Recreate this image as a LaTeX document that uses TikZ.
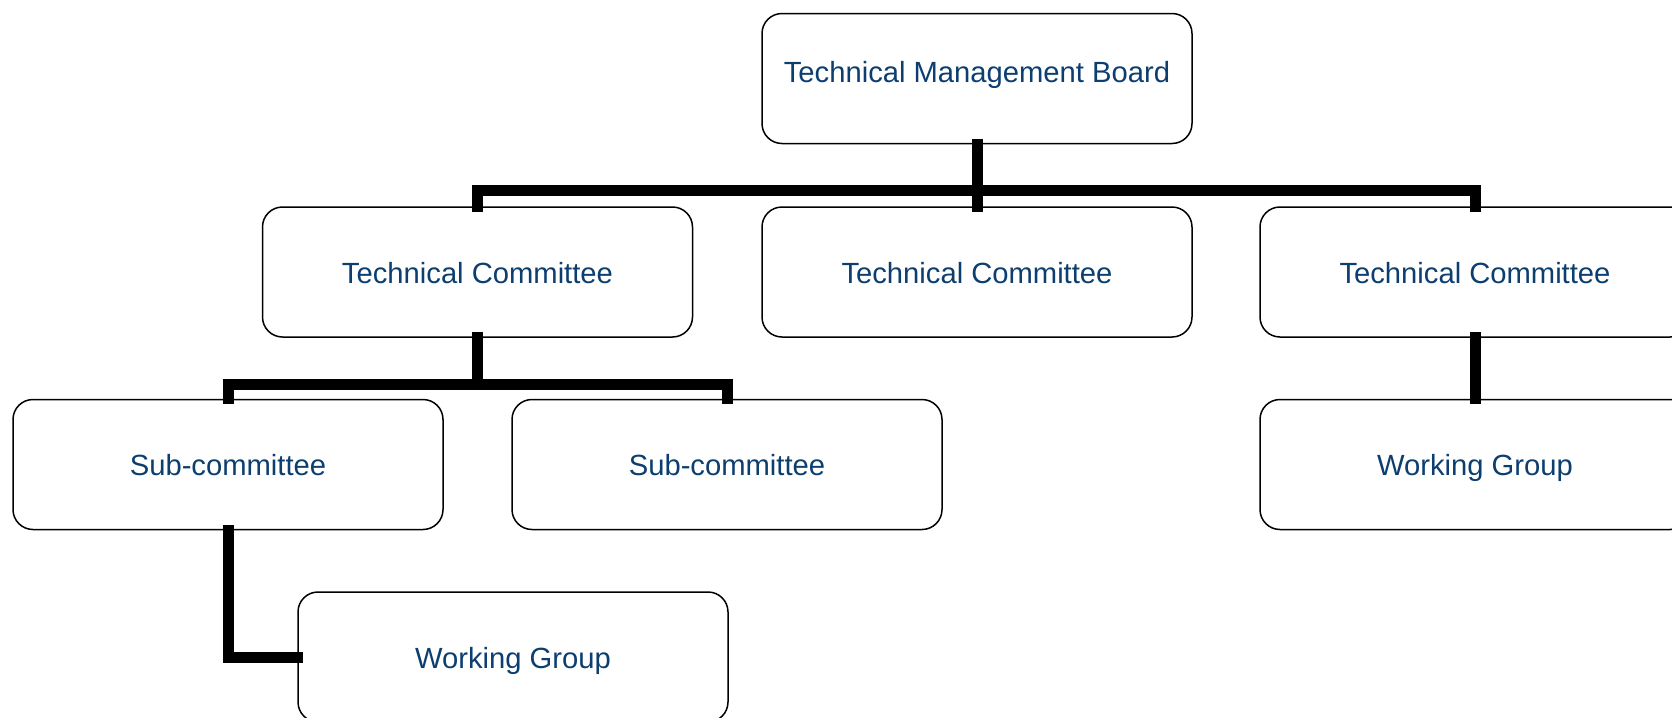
\documentclass[tikz,border=0pt]{standalone}
\usepackage{fontspec}
\setmainfont{Liberation Sans}
\usetikzlibrary{positioning}
\definecolor{orgblue}{RGB}{12,62,112}

\begin{document}
\begin{tikzpicture}[x = .5pt, y = -.5pt, style={font=\fontsize{14.6}{17}\selectfont},
  unit/.style={draw=black, line width=.75pt, rounded corners=10pt, minimum width=215pt,
    minimum height=65pt, text=orgblue, align=center, text height=11.5pt, text depth=.5pt},
  link/.style={line width=5.5pt, line cap=rect}]
\useasboundingbox (0,0) rectangle (1672,718);
% Board
\node[unit] (tmb) at (977,78.5) {\raisebox{3.3pt}{Technical Management Board}};
% Committees
\node[unit] (tc1) at (477.5,272) {Technical Committee};
\node[unit] (tc2) at (977,272) {Technical Committee};
\node[unit] (tc3) at (1475,272) {Technical Committee};
% Sub-committees and working groups
\node[unit] (sc1) at (228,464.5) {Sub-committee};
\node[unit] (sc2) at (727,464.5) {Sub-committee};
\node[unit] (wgr) at (1475,464.5) {Working Group};
\node[unit] (wgl) at (513,657) {Working Group};
% Board -> committees
\draw[link] (tmb.south) -- (tc2.north);
\draw[link] (tc1.north) -- ++(0,-16) -| (tc3.north);
% Committee -> sub-committees
\draw[link] (tc1.south) |- ++(0,47) -| (sc1.north);
\draw[link] (tc1.south) |- ++(0,47) -| (sc2.north);
\draw[link] (tc3.south) -- (wgr.north);
% Sub-committee -> working group
\draw[link] (sc1.south) |- (wgl.west);
\end{tikzpicture}
\end{document}
